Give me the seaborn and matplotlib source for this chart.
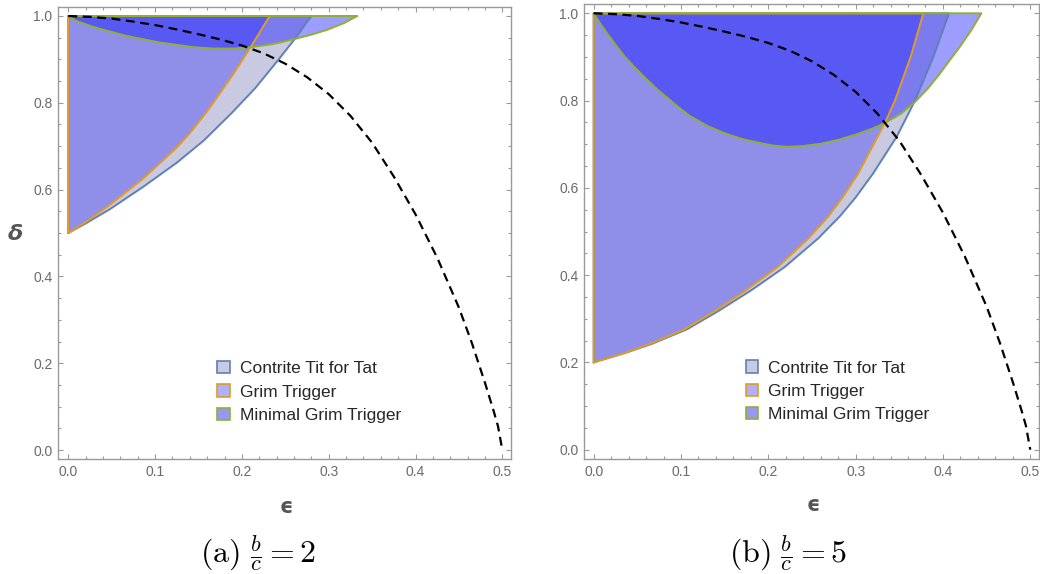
import matplotlib
matplotlib.use("Agg")
import matplotlib.pyplot as plt
import seaborn as sns
from matplotlib.patches import Patch
from matplotlib.ticker import MultipleLocator

# dashed threshold curve (same in both panels)
thr_eps = [0.0, 0.025, 0.05, 0.075, 0.10, 0.125, 0.15, 0.175, 0.20, 0.225, 0.25, 0.275, 0.30,
           0.325, 0.35, 0.375, 0.40, 0.425, 0.45, 0.465, 0.48, 0.49, 0.495, 0.50]
thr_delta = [1.0, 0.998, 0.994, 0.987, 0.979, 0.969, 0.958, 0.946, 0.932, 0.914, 0.890, 0.859, 0.820,
             0.770, 0.708, 0.630, 0.543, 0.443, 0.328, 0.246, 0.155, 0.090, 0.055, 0.0]

# panel (a): b/c = 2
a_ctft_eps = [0.0, 0.020, 0.048, 0.086, 0.125, 0.156, 0.188, 0.215, 0.242, 0.262, 0.280]
a_ctft_delta = [0.5, 0.522, 0.555, 0.606, 0.662, 0.713, 0.776, 0.833, 0.899, 0.950, 1.0]
a_gt_eps = [0.0, 0.020, 0.048, 0.086, 0.125, 0.140, 0.159, 0.172, 0.190, 0.210, 0.232]
a_gt_delta = [0.5, 0.525, 0.565, 0.625, 0.697, 0.730, 0.778, 0.814, 0.866, 0.928, 1.0]
a_mgt_eps = [0.0, 0.010, 0.030, 0.065, 0.105, 0.145, 0.167, 0.190, 0.210, 0.235, 0.259, 0.280, 0.298, 0.318, 0.333]
a_mgt_delta = [1.0, 0.988, 0.974, 0.955, 0.939, 0.928, 0.925, 0.925, 0.928, 0.935, 0.946, 0.957, 0.968, 0.984, 1.0]

# panel (b): b/c = 5
b_ctft_eps = [0.0, 0.035, 0.066, 0.107, 0.143, 0.181, 0.219, 0.257, 0.282, 0.300, 0.320, 0.347, 0.368, 0.389, 0.407]
b_ctft_delta = [0.2, 0.221, 0.242, 0.276, 0.318, 0.366, 0.419, 0.484, 0.535, 0.578, 0.633, 0.717, 0.800, 0.900, 1.0]
b_gt_eps = [0.0, 0.034, 0.064, 0.104, 0.139, 0.175, 0.211, 0.246, 0.269, 0.285, 0.303, 0.3336, 0.345, 0.363, 0.3775]
b_gt_delta = [0.2, 0.221, 0.242, 0.276, 0.318, 0.366, 0.419, 0.484, 0.535, 0.578, 0.633, 0.749, 0.800, 0.900, 1.0]
b_mgt_eps = [0.0, 0.008, 0.015, 0.025, 0.035, 0.047, 0.060, 0.072, 0.085, 0.097, 0.110, 0.130, 0.150, 0.170,
             0.190, 0.205, 0.222, 0.240, 0.260, 0.280, 0.300, 0.318, 0.334, 0.352, 0.368, 0.382, 0.395,
             0.408, 0.420, 0.432, 0.444]
b_mgt_delta = [1.0, 0.975, 0.955, 0.928, 0.902, 0.876, 0.850, 0.827, 0.805, 0.785, 0.765, 0.742, 0.725, 0.712,
               0.703, 0.697, 0.694, 0.696, 0.701, 0.710, 0.722, 0.735, 0.749, 0.770, 0.797, 0.826, 0.858,
               0.893, 0.925, 0.960, 1.0]

legend_labels = ['Contrite Tit for Tat', 'Grim Trigger', 'Minimal Grim Trigger']
captions = [r'$\mathrm{(a)}\ \frac{b}{c} = 2$', r'$\mathrm{(b)}\ \frac{b}{c} = 5$']

# styling
sns.set_theme(style="white")
plt.rcParams['font.family'] = ['Liberation Sans', 'DejaVu Sans']
plt.rcParams['mathtext.fontset'] = 'cm'

edge_cols = ['#5e81b5', '#e19c24', '#8fb032']
fill_cols = [(0.47, 0.47, 0.72), (0.0, 0.0, 1.0), (0.0, 0.0, 1.0)]
fill_alpha = [0.4, 0.285, 0.385]
swatch_cols = ['#c9c9e3', '#b0b0f8', '#9898f4']
frame_col = '#9a9a9a'

fig = plt.figure(figsize=(10.4, 5.74), dpi=100)
ax_a = fig.add_axes([58/1040, 1-459/574, 453/1040, 452/574])
ax_b = fig.add_axes([584/1040, 1-459/574, 455/1040, 455/574])


def draw_panel(ax, regions, xlim, ylim, leg_anchor):
    # fills first, then all boundary lines on top
    polys = []
    for (ex, dl), fc, al in zip(regions, fill_cols, fill_alpha):
        if dl[0] < 1.0:
            px, py = ex + [0.0, ex[0]], dl + [1.0, dl[0]]
        else:
            px, py = ex + [ex[0]], dl + [dl[0]]
        polys.append((px, py))
        ax.fill(px, py, color=fc, alpha=al, lw=0, zorder=1)
    for (px, py), ec in zip(polys, edge_cols):
        ax.plot(px, py, color=ec, lw=1.4, zorder=2, solid_joinstyle='round')

    sns.lineplot(x=thr_eps, y=thr_delta, ax=ax, color='black', lw=1.6,
                 linestyle=(0, (4, 2.5)), sort=False, estimator=None, zorder=3)

    ax.set_xlim(xlim)
    ax.set_ylim(ylim)
    ax.xaxis.set_major_locator(MultipleLocator(0.1))
    ax.xaxis.set_minor_locator(MultipleLocator(0.02))
    ax.yaxis.set_major_locator(MultipleLocator(0.2))
    ax.yaxis.set_minor_locator(MultipleLocator(0.05))
    ax.tick_params(which='both', direction='in', bottom=True, left=True, top=True, right=True,
                   color=frame_col, labelcolor='#6a6a6a', labelsize=10, width=0.8)
    ax.tick_params(which='major', length=3.5, pad=4)
    ax.tick_params(which='minor', length=2)
    for sp in ax.spines.values():
        sp.set_color(frame_col)
        sp.set_linewidth(1.0)
    ax.set_xlabel('')
    ax.set_ylabel('')

    handles = [Patch(facecolor=sc, edgecolor=ec, lw=1.2, label=lb)
               for sc, ec, lb in zip(swatch_cols, edge_cols, legend_labels)]
    ax.legend(handles=handles, loc='upper left', bbox_to_anchor=leg_anchor, frameon=False,
              fontsize=12.5, handlelength=0.72, handleheight=0.72, handletextpad=0.6,
              labelspacing=0.47, borderpad=0, borderaxespad=0)


draw_panel(ax_a, [(a_ctft_eps, a_ctft_delta), (a_gt_eps, a_gt_delta), (a_mgt_eps, a_mgt_delta)],
           (-0.0119, 0.510), (-0.0207, 1.0207), (0.351, 0.217))
draw_panel(ax_b, [(b_ctft_eps, b_ctft_delta), (b_gt_eps, b_gt_delta), (b_mgt_eps, b_mgt_delta)],
           (-0.0111, 0.510), (-0.0213, 1.0213), (0.355, 0.217))

# axis labels
lab_col = '#555555'
fig.text(15/1040, 1-234/574, 'δ', fontsize=16, fontweight='bold', fontstyle='italic',
         color=lab_col, ha='center', va='center', family='DejaVu Sans')
fig.text(286/1040, 1-507/574, 'ϵ', fontsize=15, fontweight='bold',
         color=lab_col, ha='center', va='center', family='DejaVu Sans')
fig.text(813/1040, 1-505/574, 'ϵ', fontsize=15, fontweight='bold',
         color=lab_col, ha='center', va='center', family='DejaVu Sans')

# captions
fig.text(258/1040, 1-553/574, captions[0], fontsize=23, ha='center', va='center', color='black')
fig.text(788/1040, 1-553/574, captions[1], fontsize=23, ha='center', va='center', color='black')

fig.savefig('out.png', dpi=100)
